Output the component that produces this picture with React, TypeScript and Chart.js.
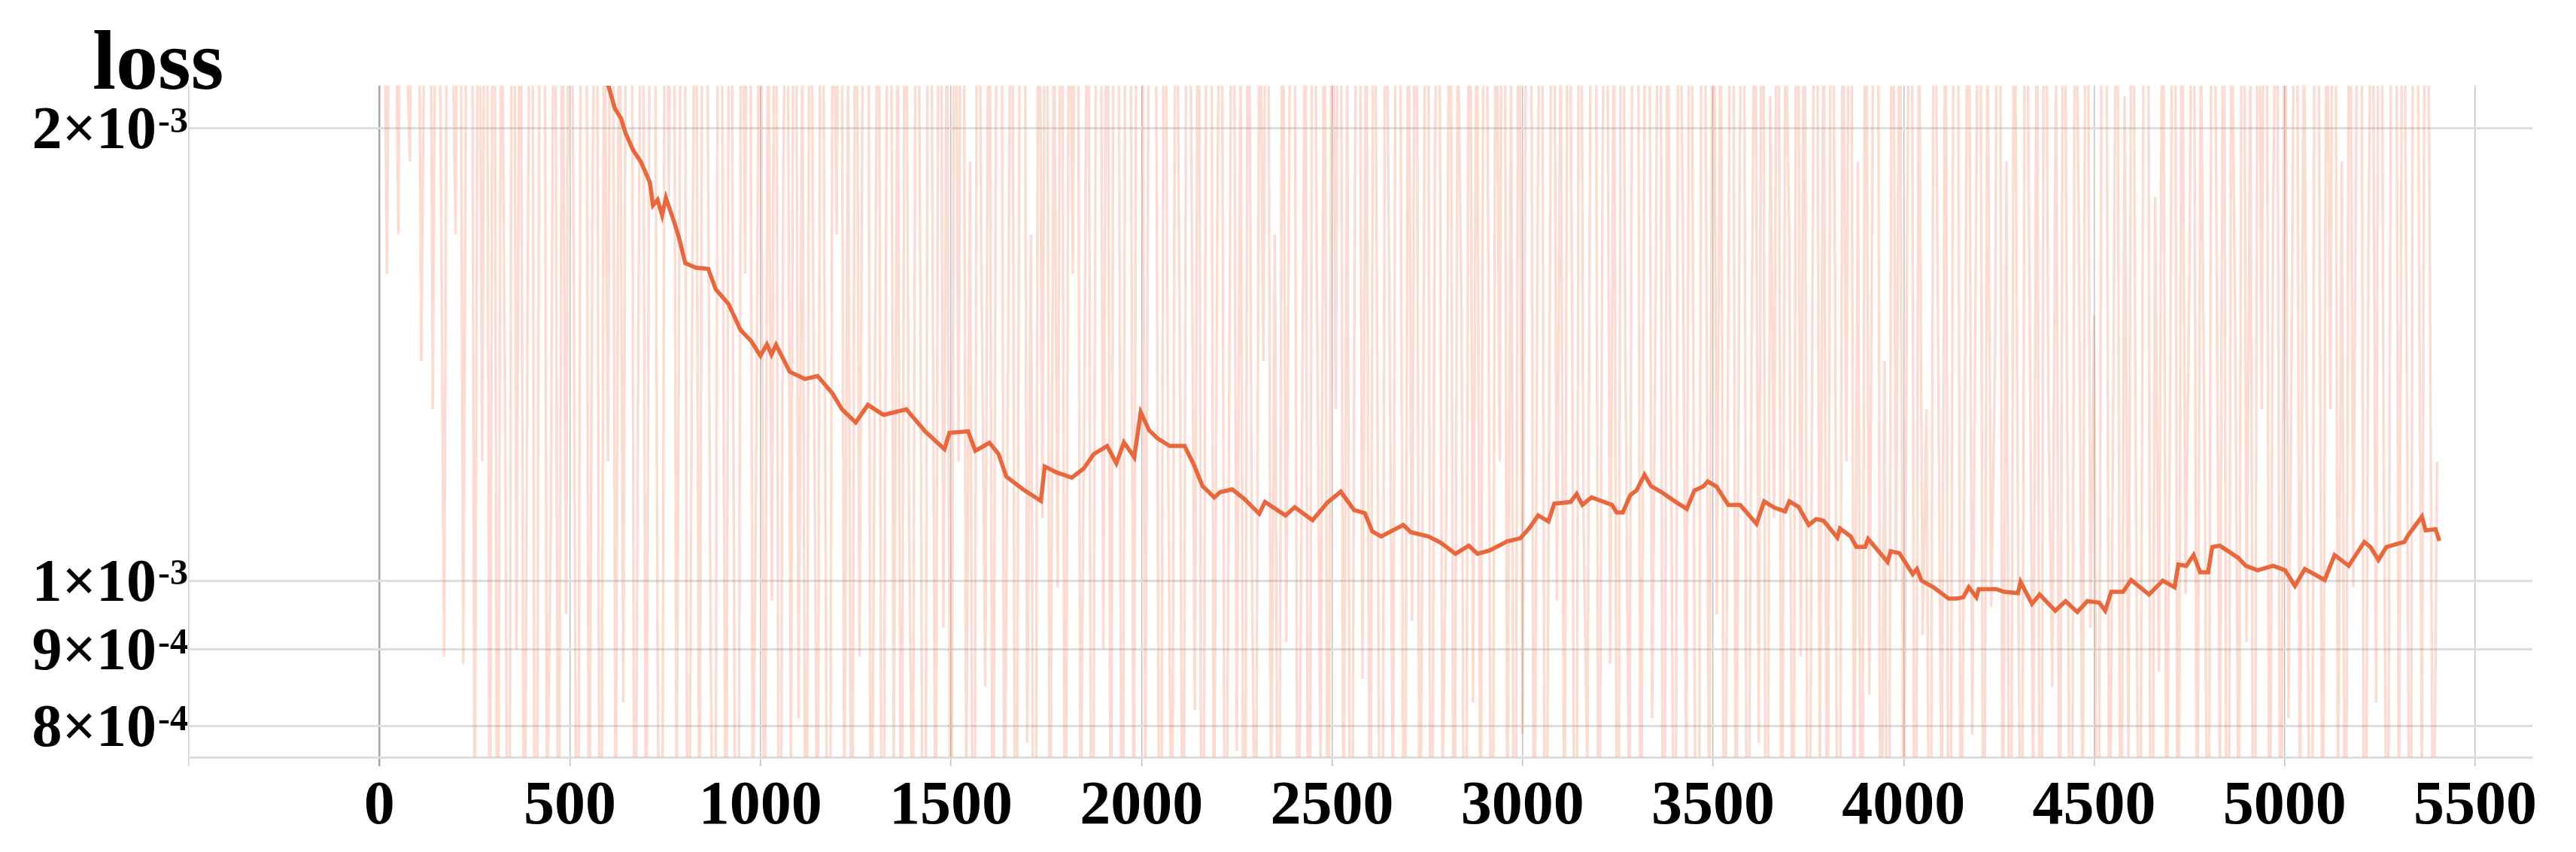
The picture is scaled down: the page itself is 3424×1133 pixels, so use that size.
import React, { useEffect, useRef } from "react";
import { Chart, registerables } from "chart.js";

Chart.register(...registerables);

// ---- data ----
const X_TICKS = [-500, 0, 500, 1000, 1500, 2000, 2500, 3000, 3500, 4000, 4500, 5000, 5500];
const Y_TICK_VALUES = [8e-4, 9e-4, 1e-3, 2e-3];
const Y_TICK_MANTISSA = ["8", "9", "1", "2"];
const Y_TICK_EXPONENT = ["-4", "-4", "-3", "-3"];
const TITLE_TEXT = "loss";

// smoothed loss (orange)
const SMOOTH_STEPS = [
  0, 150, 300, 450, 540, 602, 618, 634, 646, 666, 686, 710, 718, 730, 742, 752, 774, 786, 803, 831,
  863, 883, 916, 948, 976, 1000, 1017, 1029, 1041, 1077, 1117, 1150, 1189, 1214, 1250, 1282, 1323, 1383, 1432, 1483,
  1496, 1545, 1564, 1601, 1625, 1645, 1689, 1736, 1746, 1778, 1817, 1848, 1875, 1910, 1934, 1954, 1981, 1998, 2020, 2043,
  2074, 2113, 2137, 2160, 2191, 2206, 2238, 2269, 2309, 2324, 2378, 2402, 2449, 2488, 2523, 2558, 2586, 2606, 2629, 2687,
  2707, 2753, 2785, 2824, 2859, 2882, 2913, 2960, 2994, 3017, 3041, 3068, 3083, 3126, 3142, 3157, 3181, 3235, 3247, 3263,
  3283, 3299, 3320, 3337, 3365, 3400, 3431, 3451, 3474, 3486, 3509, 3540, 3571, 3614, 3634, 3662, 3689, 3700, 3724, 3751,
  3771, 3790, 3826, 3833, 3861, 3876, 3899, 3907, 3958, 3966, 3989, 4024, 4035, 4047, 4078, 4118, 4140, 4157, 4171, 4191,
  4197, 4243, 4264, 4300, 4307, 4337, 4357, 4398, 4425, 4456, 4482, 4513, 4529, 4545, 4576, 4597, 4644, 4680, 4711, 4721,
  4742, 4761, 4778, 4799, 4810, 4830, 4877, 4898, 4929, 4970, 5001, 5027, 5053, 5105, 5131, 5168, 5209, 5225, 5246, 5267,
  5314, 5324, 5360, 5370, 5396, 5406,
];
const SMOOTH_LOSS = [
  0.0042, 0.00355, 0.003, 0.00255, 0.0023, 0.00213, 0.002061, 0.00203, 0.001985, 0.001933, 0.0019, 0.00184, 0.001777, 0.001792, 0.00175, 0.001797, 0.001731, 0.001692, 0.001626, 0.001615,
  0.001612, 0.001562, 0.001528, 0.001468, 0.001443, 0.001411, 0.001436, 0.001414, 0.001435, 0.001377, 0.001362, 0.001368, 0.001332, 0.0013, 0.001274, 0.001309, 0.001289, 0.0013, 0.001257, 0.001223,
  0.001254, 0.001257, 0.00122, 0.001235, 0.001214, 0.001173, 0.00115, 0.00113, 0.001191, 0.00118, 0.001171, 0.001187, 0.001214, 0.001229, 0.001197, 0.001236, 0.001208, 0.001294, 0.001259, 0.001243,
  0.001229, 0.001229, 0.001195, 0.001156, 0.001136, 0.001145, 0.00115, 0.001134, 0.001108, 0.001128, 0.001105, 0.001119, 0.001097, 0.001127, 0.001146, 0.001114, 0.001109, 0.001078, 0.00107, 0.001089,
  0.001077, 0.00107, 0.00106, 0.001042, 0.001055, 0.001042, 0.001047, 0.001062, 0.001067, 0.001083, 0.001105, 0.001095, 0.001125, 0.001128, 0.001142, 0.001123, 0.001136, 0.001123, 0.00111, 0.00111,
  0.00114, 0.001148, 0.001176, 0.001156, 0.001145, 0.001129, 0.001116, 0.001148, 0.001155, 0.001164, 0.001155, 0.001123, 0.001123, 0.001091, 0.001129, 0.001118, 0.001112, 0.001129, 0.00112, 0.001089,
  0.001099, 0.001096, 0.001068, 0.001083, 0.00107, 0.001053, 0.001053, 0.001066, 0.001029, 0.001046, 0.001043, 0.00101, 0.001018, 0.001, 0.00099, 0.000973, 0.000973, 0.000975, 0.00099, 0.000975,
  0.000987, 0.000987, 0.000983, 0.000981, 0.000998, 0.000965, 0.000979, 0.000955, 0.000969, 0.000953, 0.000969, 0.000967, 0.000955, 0.000983, 0.000983, 0.001001, 0.000979, 0.001, 0.00099, 0.001025,
  0.001023, 0.00104, 0.001013, 0.001013, 0.001053, 0.001055, 0.001036, 0.001023, 0.001016, 0.001023, 0.001016, 0.000992, 0.001018, 0.001001, 0.00104, 0.001023, 0.001061, 0.001053, 0.001032, 0.001053,
  0.001061, 0.001072, 0.001103, 0.00108, 0.001082, 0.001063,
];

// raw loss (light), logged every 10 steps from step 0
const RAW_STEP_INTERVAL = 10;
const RAW_LOSS = [
  0.0045, 0.0031, 0.0016, 0.0038, 0.0029, 0.0017, 0.0052, 0.0024, 0.0019, 0.0041,
  0.0036, 0.0014, 0.0027, 0.0048, 0.0013, 0.0033, 0.0021, 0.00089, 0.0039, 0.0026,
  0.0017, 0.0044, 0.00088, 0.0031, 0.0058, 0.00062, 0.0035, 0.0012, 0.0047, 0.00055,
  0.0051, 0.00045, 0.0029, 0.0013, 0.00038, 0.0062, 0.0009, 0.0034, 0.00052, 0.0017,
  0.0043, 0.00031, 0.0024, 0.0057, 0.00068, 0.0011, 0.0038, 0.00049, 0.0028, 0.00095,
  0.0047, 0.0016, 0.00041, 0.0033, 0.0061, 0.00058, 0.0019, 0.0036, 0.00036, 0.0026,
  0.0012, 0.0049, 0.00064, 0.0031, 0.00083, 0.0042, 0.0055, 0.00047, 0.0015, 0.0039,
  0.00056, 0.0027, 0.0046, 0.00092, 0.00034, 0.0035, 0.0018, 0.0053, 0.00071, 0.0023,
  0.0041, 0.00043, 0.0014, 0.0032, 0.00061, 0.0045, 0.0025, 0.00087, 0.00039, 0.0037,
  0.0021, 0.00054, 0.0048, 0.0011, 0.00029, 0.0034, 0.0016, 0.0059, 0.00066, 0.0013,
  0.0038, 0.00048, 0.0026, 0.00097, 0.0044, 0.00035, 0.0019, 0.0031, 0.00074, 0.0052,
  0.00081, 0.0023, 0.00042, 0.0036, 0.0014, 0.00059, 0.0047, 0.0012, 0.00033, 0.0029,
  0.0017, 0.0054, 0.00069, 0.0022, 0.00046, 0.0039, 0.00089, 0.0027, 0.0062, 0.00053,
  0.0013, 0.0034, 0.00037, 0.0018, 0.0043, 0.00076, 0.0024, 0.00051, 0.0036, 0.0011,
  0.00063, 0.0045, 0.0015, 0.00028, 0.0032, 0.0021, 0.00057, 0.0049, 0.00093, 0.0026,
  0.00044, 0.0038, 0.0012, 0.0056, 0.00072, 0.0019, 0.00036, 0.0041, 0.0016, 0.00085,
  0.0033, 0.00052, 0.0028, 0.0047, 0.00065, 0.0014, 0.0037, 0.00041, 0.0022, 0.0058,
  0.00078, 0.0017, 0.00032, 0.0035, 0.0011, 0.0044, 0.00055, 0.0025, 0.00099, 0.0039,
  0.00047, 0.0029, 0.0016, 0.0051, 0.00068, 0.0013, 0.0034, 0.00038, 0.0021, 0.0046,
  0.0009, 0.0037, 0.00054, 0.0062, 0.0024, 0.00043, 0.0048, 0.0031, 0.00061, 0.0055,
  0.0042, 0.00073, 0.0027, 0.0066, 0.0018, 0.00035, 0.0039, 0.0012, 0.00057, 0.0033,
  0.0015, 0.00049, 0.0044, 0.0021, 0.00082, 0.0036, 0.00031, 0.0026, 0.0053, 0.00064,
  0.0019, 0.0032, 0.00045, 0.0013, 0.0041, 0.00077, 0.0023, 0.00039, 0.0035, 0.001,
  0.00058, 0.0028, 0.0014, 0.0045, 0.00067, 0.0017, 0.00042, 0.0031, 0.00091, 0.0024,
  0.0038, 0.00053, 0.0011, 0.0027, 0.00034, 0.0049, 0.0016, 0.00075, 0.0029, 0.00046,
  0.0034, 0.0013, 0.0057, 0.00062, 0.0022, 0.00037, 0.0018, 0.0043, 0.00086, 0.0026,
  0.00051, 0.0037, 0.0012, 0.00029, 0.0031, 0.0016, 0.00069, 0.0046, 0.0021, 0.00044,
  0.0028, 0.00094, 0.0039, 0.00056, 0.0014, 0.0052, 0.00038, 0.0019, 0.0033, 0.00073,
  0.0011, 0.0035, 0.00047, 0.0024, 0.0015, 0.00033, 0.0041, 0.00083, 0.0027, 0.00059,
  0.0044, 0.0017, 0.00041, 0.0031, 0.0012, 0.0054, 0.00066, 0.0022, 0.00036, 0.0037,
  0.00079, 0.0026, 0.0048, 0.00052, 0.0018, 0.0035, 0.00043, 0.0013, 0.0042, 0.00097,
  0.0023, 0.00061, 0.0038, 0.0015, 0.00032, 0.0051, 0.0011, 0.00074, 0.0029, 0.0046,
  0.00048, 0.0019, 0.0036, 0.00088, 0.0025, 0.00039, 0.0044, 0.0014, 0.00067, 0.0033,
  0.0058, 0.00054, 0.0021, 0.0039, 0.00081, 0.0016, 0.0047, 0.00035, 0.0027, 0.0012,
  0.00045, 0.0034, 0.0018, 0.00071, 0.0043, 0.0011, 0.00028, 0.0031, 0.0022, 0.00063,
  0.0037, 0.00095, 0.0026, 0.00049, 0.0015, 0.0052, 0.00057, 0.0019, 0.0035, 0.00041,
  0.0013, 0.0029, 0.00078, 0.0045, 0.00033, 0.0021, 0.0011, 0.0038, 0.00055, 0.0024,
  0.0017, 0.00046, 0.0042, 0.00089, 0.0031, 0.00037, 0.0014, 0.0049, 0.00072, 0.0026,
  0.00052, 0.0036, 0.0016, 0.00031, 0.0027, 0.0012, 0.0044, 0.00065, 0.0019, 0.00042,
  0.0033, 0.00084, 0.0023, 0.0055, 0.00047, 0.0014, 0.00036, 0.0039, 0.001, 0.0028,
  0.00059, 0.0018, 0.0041, 0.00038, 0.0025, 0.00092, 0.0013, 0.00044, 0.0034, 0.0015,
  0.00068, 0.0029, 0.00034, 0.0021, 0.0047, 0.00056, 0.0012, 0.0032, 0.00079, 0.0017,
  0.0039, 0.00043, 0.0024, 0.00096, 0.0014, 0.0053, 0.00061, 0.0019, 0.00037, 0.0031,
  0.0011, 0.00049, 0.0036, 0.0016, 0.00071, 0.0027, 0.00032, 0.0044, 0.0013, 0.00085,
  0.0022, 0.00054, 0.0038, 0.0012, 0.00041, 0.0029, 0.0017, 0.00066, 0.0048, 0.00093,
  0.0015, 0.00039, 0.0026, 0.0041, 0.00058, 0.0013, 0.0033, 0.00046, 0.0021, 0.00076,
  0.0037, 0.0011, 0.00052, 0.0024, 0.0045, 0.00035, 0.0018, 0.00087, 0.0031, 0.00063,
  0.0014, 0.0052, 0.00044, 0.0028, 0.00098, 0.0016, 0.0039, 0.00057, 0.0023, 0.0012,
  0.00048, 0.0043, 0.0019, 0.00073, 0.0034, 0.00029, 0.0026, 0.0015, 0.00062, 0.0047,
  0.00091, 0.0022, 0.00037, 0.0036, 0.0013, 0.0057, 0.00053, 0.0018, 0.0029, 0.00042,
  0.0032, 0.00081, 0.0016, 0.0044, 0.00064, 0.0025, 0.0011, 0.00033, 0.0039, 0.0021,
  0.00055, 0.0028, 0.0013, 0.0049, 0.00071, 0.0019, 0.00046, 0.0035, 0.00099, 0.0024,
  0.0041, 0.00038, 0.0017, 0.0031, 0.00083, 0.0054, 0.0012, 0.00051, 0.0027, 0.0046,
  0.00067, 0.0036, 0.0015, 0.00043, 0.0062, 0.0022, 0.00074, 0.0039, 0.0018, 0.00058,
  0.0012,
];

const X_MIN = -500;
const X_MAX = 5650;
const Y_MIN = 7.63e-4;
const Y_MAX = 2.134e-3;

const FONT_FAMILY = '"Times New Roman", "Liberation Serif", serif';

const textPlugin = {
  id: "lossText",
  afterDraw(chart: any) {
    const ctx = chart.ctx;
    const yScale = chart.scales.y;
    ctx.save();
    ctx.fillStyle = "#000";
    ctx.textBaseline = "alphabetic";
    ctx.textAlign = "left";
    // title
    ctx.font = `bold 112px ${FONT_FAMILY}`;
    ctx.fillText(TITLE_TEXT, 123, 118);
    // y tick labels with superscript exponents
    const mainSize = 80;
    const supSize = 48;
    const right = 250;
    Y_TICK_VALUES.forEach((v, i) => {
      const y = yScale.getPixelForValue(v);
      const main = Y_TICK_MANTISSA[i] + "\u00d710";
      const sup = Y_TICK_EXPONENT[i];
      ctx.font = `bold ${supSize}px ${FONT_FAMILY}`;
      const supW = ctx.measureText(sup).width;
      ctx.font = `bold ${mainSize}px ${FONT_FAMILY}`;
      const mainW = ctx.measureText(main).width;
      const digitH = mainSize * 0.66;
      const baseline = y + digitH / 2;
      ctx.fillText(main, right - supW - mainW - 2, baseline);
      ctx.font = `bold ${supSize}px ${FONT_FAMILY}`;
      ctx.fillText(sup, right - supW, baseline - digitH + supSize * 0.66);
    });
    ctx.restore();
  },
};

export default function App() {
  const canvasRef = useRef<HTMLCanvasElement | null>(null);

  useEffect(() => {
    document.body.style.margin = "0";
    const canvas = canvasRef.current;
    if (!canvas) return;

    const rawData = RAW_LOSS.map((v, i) => ({ x: i * RAW_STEP_INTERVAL, y: v }));
    const smoothData = SMOOTH_STEPS.map((s, i) => ({ x: s, y: SMOOTH_LOSS[i] }));

    const chart = new Chart(canvas, {
      type: "line",
      data: {
        datasets: [
          {
            label: "loss (smoothed)",
            data: smoothData,
            borderColor: "#E8673D",
            borderWidth: 5.5,
            pointRadius: 0,
            tension: 0,
            order: 0,
          },
          {
            label: "loss",
            data: rawData,
            borderColor: "rgba(240,125,90,0.27)",
            borderWidth: 3.5,
            pointRadius: 0,
            tension: 0,
            order: 1,
          },
        ],
      },
      options: {
        animation: false,
        responsive: false,
        maintainAspectRatio: false,
        devicePixelRatio: 1,
        layout: { padding: { top: 114, right: 58, left: 0, bottom: 0 } },
        plugins: {
          legend: { display: false },
          tooltip: { enabled: false },
          title: { display: false },
        },
        scales: {
          x: {
            type: "linear",
            min: X_MIN,
            max: X_MAX,
            afterBuildTicks: (scale: any) => {
              scale.ticks = X_TICKS.map((v) => ({ value: v }));
            },
            afterFit: (scale: any) => {
              scale.height = 126;
            },
            ticks: {
              autoSkip: false,
              maxRotation: 0,
              minRotation: 0,
              padding: 6,
              color: "#000",
              font: { family: FONT_FAMILY, size: 82, weight: "bold" },
              callback: (v: any) => (Number(v) < 0 ? "" : String(v)),
            },
            grid: {
              color: (c: any) =>
                c.tick && c.tick.value === -500 ? "#d2d2d2" : c.tick && c.tick.value === 0 ? "#a6a6a6" : "#c2c2c2",
              lineWidth: (c: any) => (c.tick && c.tick.value === 0 ? 2.5 : 1.5),
              tickLength: 12,
              drawTicks: true,
            },
            border: { display: true, color: "#dddddd", width: 3 },
          },
          y: {
            type: "logarithmic",
            min: Y_MIN,
            max: Y_MAX,
            afterBuildTicks: (scale: any) => {
              scale.ticks = Y_TICK_VALUES.map((v) => ({ value: v }));
            },
            afterFit: (scale: any) => {
              scale.width = 251;
            },
            ticks: { display: false },
            grid: { color: "#dddddd", lineWidth: 3, drawTicks: false },
            border: { display: false },
          },
        },
      },
      plugins: [textPlugin],
    } as any);

    return () => chart.destroy();
  }, []);

  return (
    <div style={{ width: 3424, height: 1133, background: "#fff" }}>
      <canvas ref={canvasRef} width={3424} height={1133} style={{ display: "block" }} />
    </div>
  );
}
